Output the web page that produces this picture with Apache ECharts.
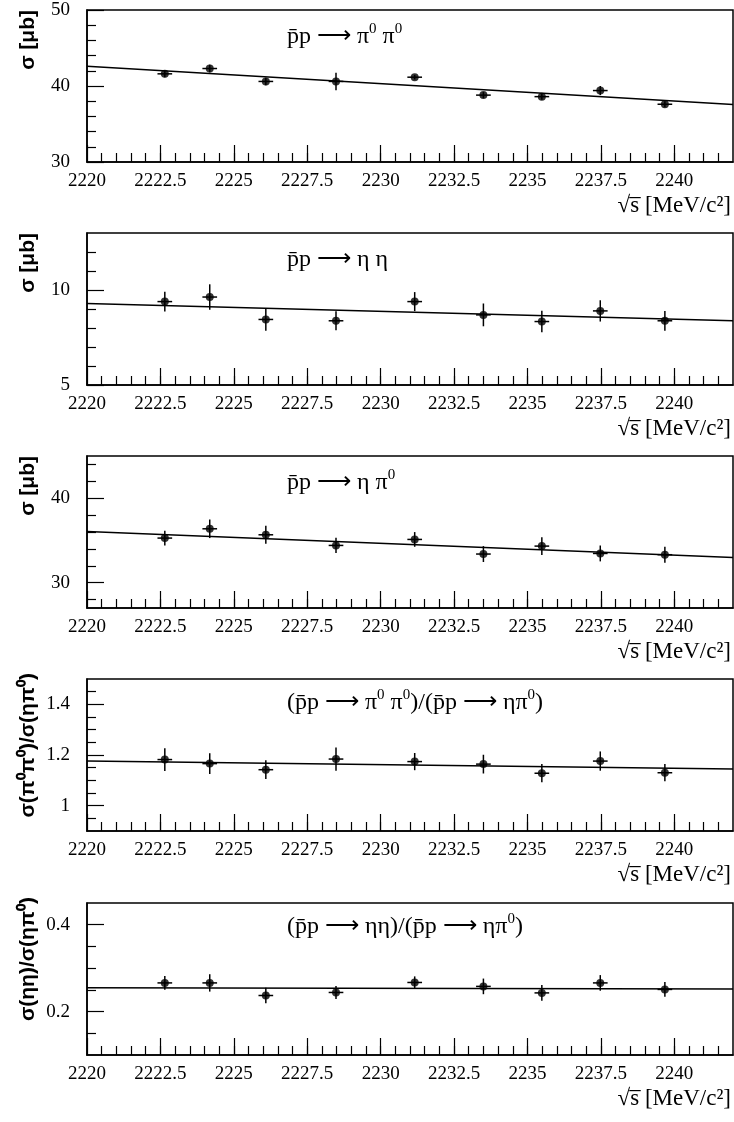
<!DOCTYPE html>
<html>
<head>
<meta charset="utf-8">
<script src="https://cdn.jsdelivr.net/npm/echarts@6/dist/echarts.min.js"></script>
<style>
  html, body { margin: 0; padding: 0; background: #fff; }
  #chart { width: 734px; height: 1122px; }
</style>
</head>
<body>
<div id="chart"></div>
<script>
// ===== data =====
const sqrtS    = [2222.65, 2224.18, 2226.09, 2228.48, 2231.16, 2233.50, 2235.49, 2237.48, 2239.68];
const sqrtSErr = [0.25, 0.25, 0.25, 0.25, 0.25, 0.25, 0.25, 0.25, 0.25];

const pi0pi0    = [41.6, 42.3, 40.6, 40.6, 41.16, 38.8, 38.6, 39.4, 37.6];
const pi0pi0Err = [0.45, 0.5, 0.5, 1.15, 0.3, 0.4, 0.4, 0.6, 0.4];
const pi0pi0Fit = [42.6, 37.55];

const etaeta    = [9.39, 9.63, 8.45, 8.38, 9.39, 8.69, 8.34, 8.9, 8.38];
const etaetaErr = [0.52, 0.67, 0.6, 0.5, 0.5, 0.6, 0.57, 0.56, 0.52];
const etaetaFit = [9.29, 8.38];

const etapi0    = [35.28, 36.38, 35.67, 34.41, 35.12, 33.39, 34.33, 33.46, 33.31];
const etapi0Err = [0.87, 1.1, 1.06, 0.9, 0.87, 0.94, 1.06, 0.94, 0.94];
const etapi0Fit = [36.06, 32.99];

const ratioPP    = [1.182, 1.166, 1.142, 1.184, 1.174, 1.164, 1.128, 1.176, 1.13];
const ratioPPErr = [0.045, 0.041, 0.037, 0.046, 0.034, 0.037, 0.036, 0.038, 0.034];
const ratioPPFit = [1.176, 1.145];

const ratioEE    = [0.266, 0.266, 0.237, 0.244, 0.267, 0.258, 0.243, 0.266, 0.251];
const ratioEEErr = [0.016, 0.02, 0.018, 0.015, 0.014, 0.018, 0.018, 0.018, 0.017];
const ratioEEFit = [0.255, 0.252];

// ===== axes / tick labels =====
const xRange = [2220, 2242];
const xMajor = [2220, 2222.5, 2225, 2227.5, 2230, 2232.5, 2235, 2237.5, 2240];
const xMinor = [];
for (let v = 2220.5; v < 2242; v += 0.5) xMinor.push(+v.toFixed(1));

const yRanges = [[30, 50], [5, 13], [27, 45], [0.9, 1.5], [0.1, 0.45]];
const yMajors = [[30, 40, 50], [5, 10], [30, 40], [1, 1.2, 1.4], [0.2, 0.4]];
const yMinors = [
  [32, 34, 36, 38, 42, 44, 46, 48],
  [6, 7, 8, 9, 11, 12],
  [28, 32, 34, 36, 38, 42, 44],
  [0.95, 1.05, 1.1, 1.15, 1.25, 1.3, 1.35, 1.45],
  [0.15, 0.25, 0.3, 0.35]
];

const titles = [
  "p\u0304p \u27f6 \u03c0\u2070 \u03c0\u2070",
  "p\u0304p \u27f6 \u03b7 \u03b7",
  "p\u0304p \u27f6 \u03b7 \u03c0\u2070",
  "(p\u0304p \u27f6 \u03c0\u2070 \u03c0\u2070)/(p\u0304p \u27f6 \u03b7\u03c0\u2070)",
  "(p\u0304p \u27f6 \u03b7\u03b7)/(p\u0304p \u27f6 \u03b7\u03c0\u2070)"
];
const yTitles = [
  "\u03c3 [\u03bcb]",
  "\u03c3 [\u03bcb]",
  "\u03c3 [\u03bcb]",
  "\u03c3(\u03c0\u2070\u03c0\u2070)/\u03c3(\u03b7\u03c0\u2070)",
  "\u03c3(\u03b7\u03b7)/\u03c3(\u03b7\u03c0\u2070)"
];
const xTitle = "\u221as\u0305 [MeV/c\u00b2]";

const series = [
  [pi0pi0, pi0pi0Err, pi0pi0Fit],
  [etaeta, etaetaErr, etaetaFit],
  [etapi0, etapi0Err, etapi0Fit],
  [ratioPP, ratioPPErr, ratioPPFit],
  [ratioEE, ratioEEErr, ratioEEFit]
];

// ===== layout =====
const gridTops = [10, 233, 456, 679, 903];
const gridH = 152;
const LEFT = 87;
const SERIF = "Liberation Serif";
const SANS = "Liberation Sans";
const plain = v => String(v);
// superscript zero as a small raised serif "0"
const toRich = s => s.replace(/\u2070/g, "{s|0}");

const grid = [], xAxis = [], yAxis = [], allSeries = [], graphic = [];

gridTops.forEach((top, i) => {
  grid.push({
    left: LEFT, right: 1, top: top, height: gridH,
    show: true, borderColor: "#000", borderWidth: 1.5, backgroundColor: "transparent"
  });

  // major x ticks + labels
  xAxis.push({
    type: "value", gridIndex: i, position: "bottom", min: xRange[0], max: xRange[1],
    axisLine: { show: true, onZero: false, lineStyle: { color: "#000", width: 1.5 } },
    splitLine: { show: false },
    axisTick: { show: true, inside: true, length: 17, customValues: xMajor, lineStyle: { color: "#000", width: 1.2 } },
    axisLabel: { customValues: xMajor, formatter: plain, margin: 10, color: "#000", fontSize: 19, fontFamily: SERIF }
  });
  // minor x ticks
  xAxis.push({
    type: "value", gridIndex: i, position: "bottom", min: xRange[0], max: xRange[1],
    axisLine: { show: false, onZero: false }, splitLine: { show: false },
    axisTick: { show: true, inside: true, length: 9, customValues: xMinor, lineStyle: { color: "#000", width: 1.2 } },
    axisLabel: { show: false }
  });
  // major y ticks + labels
  yAxis.push({
    type: "value", gridIndex: i, position: "left", min: yRanges[i][0], max: yRanges[i][1],
    axisLine: { show: true, onZero: false, lineStyle: { color: "#000", width: 1.5 } },
    splitLine: { show: false },
    axisTick: { show: true, inside: true, length: 17, customValues: yMajors[i], lineStyle: { color: "#000", width: 1.2 } },
    axisLabel: { customValues: yMajors[i], formatter: plain, margin: 17, color: "#000", fontSize: 19, fontFamily: SERIF }
  });
  // minor y ticks
  yAxis.push({
    type: "value", gridIndex: i, position: "left", min: yRanges[i][0], max: yRanges[i][1],
    axisLine: { show: false, onZero: false }, splitLine: { show: false },
    axisTick: { show: true, inside: true, length: 9, customValues: yMinors[i], lineStyle: { color: "#000", width: 1.2 } },
    axisLabel: { show: false }
  });

  const [vals, errs, fit] = series[i];
  const pts = sqrtS.map((x, k) => [x, vals[k]]);
  const bars = sqrtS.map((x, k) => [x, vals[k], sqrtSErr[k], errs[k]]);

  // fit line
  allSeries.push({
    type: "line", xAxisIndex: 2 * i, yAxisIndex: 2 * i,
    data: [[xRange[0], fit[0]], [xRange[1], fit[1]]],
    symbol: "none", lineStyle: { color: "#000", width: 1.5 }, silent: true, z: 2
  });
  // error bars
  allSeries.push({
    type: "custom", xAxisIndex: 2 * i, yAxisIndex: 2 * i,
    data: bars, z: 3,
    renderItem: (params, api) => {
      const x = api.value(0), y = api.value(1), ex = api.value(2), ey = api.value(3);
      const l = api.coord([x - ex, y]), r = api.coord([x + ex, y]);
      const t = api.coord([x, y + ey]), b = api.coord([x, y - ey]);
      return {
        type: "group",
        children: [
          { type: "line", shape: { x1: l[0], y1: l[1], x2: r[0], y2: r[1] }, style: { stroke: "#000", lineWidth: 1.5 } },
          { type: "line", shape: { x1: t[0], y1: t[1], x2: b[0], y2: b[1] }, style: { stroke: "#000", lineWidth: 1.5 } }
        ]
      };
    }
  });
  // points
  allSeries.push({
    type: "scatter", xAxisIndex: 2 * i, yAxisIndex: 2 * i,
    data: pts, symbol: "circle", symbolSize: 8,
    itemStyle: { color: "#000" }, z: 4
  });

  // panel title
  graphic.push({
    type: "text", x: 287, y: top + (i >= 3 ? 24 : 27),
    style: {
      text: toRich(titles[i]), fill: "#000", fontSize: 24, fontFamily: SERIF,
      align: "left", verticalAlign: "middle", textAlign: "left", textVerticalAlign: "middle",
      rich: { s: { fontSize: 15, fontFamily: SERIF, fill: "#000", verticalAlign: "top", lineHeight: 30 } }
    }
  });
  // y axis title (rotated, top aligned)
  graphic.push({
    type: "text", x: 28, y: top - (i >= 3 ? 6 : 0), rotation: Math.PI / 2,
    style: { text: yTitles[i], fill: "#000", fontSize: 21, fontWeight: "bold", fontFamily: SANS,
      align: "right", verticalAlign: "middle", textAlign: "right", textVerticalAlign: "middle" }
  });
  // x axis title
  graphic.push({
    type: "text", x: 731, y: top + gridH + 44,
    style: { text: xTitle, fill: "#000", fontSize: 23, fontFamily: SERIF,
      align: "right", verticalAlign: "middle", textAlign: "right", textVerticalAlign: "middle" }
  });
});

const chart = echarts.init(document.getElementById("chart"), null, { renderer: "canvas" });
chart.setOption({
  animation: false,
  backgroundColor: "#fff",
  grid: grid,
  xAxis: xAxis,
  yAxis: yAxis,
  series: allSeries,
  graphic: graphic
});
</script>
</body>
</html>
